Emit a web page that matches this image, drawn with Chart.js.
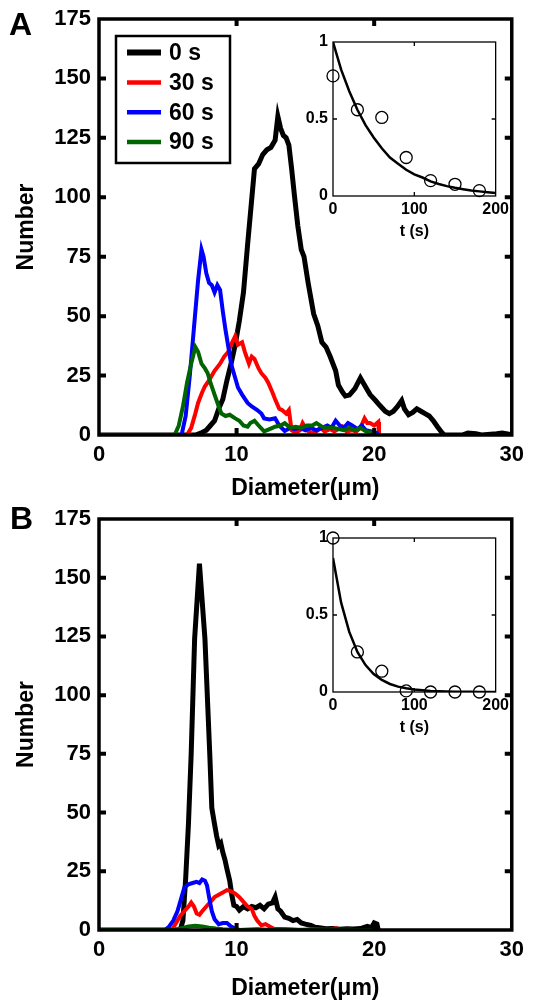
<!DOCTYPE html>
<html>
<head>
<meta charset="utf-8">
<script src="https://cdn.jsdelivr.net/npm/chart.js@4.4.1/dist/chart.umd.min.js"></script>
<style>
  body { margin: 0; background: #fff; }
  #wrap { position: relative; width: 533px; height: 1000px; }
  canvas { position: absolute; }
  .tag { position: absolute; font: bold 32px "Liberation Sans", Arial, sans-serif; line-height: 32px; }
</style>
</head>
<body>
<div id="wrap">
  <canvas id="mainA" width="533" height="500" style="left:0;top:0"></canvas>
  <canvas id="mainB" width="533" height="500" style="left:0;top:500px"></canvas>
  <canvas id="insetA" width="225" height="220" style="left:290px;top:28px"></canvas>
  <canvas id="insetB" width="225" height="220" style="left:290px;top:524px"></canvas>
  <div class="tag" style="left:9px;top:8px">A</div>
  <div class="tag" style="left:10px;top:502px">B</div>
</div>
<script>
// legend labels
const labels = ['0 s', '30 s', '60 s', '90 s'];
const colors = ['#000000', '#ff0000', '#0000ff', '#006400'];

// panel A - diameter (um) / number
const diamA0 = [0, 7.0, 7.4, 7.8, 8.1, 8.4, 8.7, 9.0, 9.3, 9.6, 9.9, 10.2, 10.5, 10.8, 11.05, 11.3, 11.6, 11.9, 12.2, 12.5, 12.8, 13.0, 13.2, 13.4, 13.6, 13.8, 14.0, 14.2, 14.45, 14.7, 14.9, 15.2, 15.6, 15.9, 16.2, 16.5, 16.8, 17.2, 17.4, 17.7, 17.9, 18.2, 18.6, 19.0, 19.2, 19.4, 19.7, 20.1, 20.4, 20.8, 21.1, 21.4, 21.7, 22.0, 22.2, 22.5, 22.8, 23.1, 23.4, 23.7, 24.0, 24.3, 24.6, 24.9, 25.1, 26.4, 26.8, 27.4, 27.8, 28.9, 29.3, 29.7, 30];
const countA0 = [0, 0, 0.8, 2, 4, 6, 11, 15, 23, 30, 38, 48, 60, 80, 96, 112, 114, 118, 120, 121, 124, 134, 129, 126, 125, 122, 112, 101, 88, 78, 75, 64, 51, 46, 39, 37, 33, 27, 21, 18, 16.4, 16.8, 19.5, 24, 22, 20, 17, 14.5, 12.5, 10, 9, 10, 12, 14.5, 11, 8.5, 9.5, 11, 10, 9, 8, 6, 3.5, 1.2, 0, 0, 0.8, 0.5, 0, 0.5, 0.8, 0.4, 0];
const diamA30 = [0, 6.4, 6.7, 7.0, 7.2, 7.5, 7.7, 8.0, 8.4, 8.8, 9.1, 9.4, 9.6, 9.9, 10.1, 10.4, 10.6, 10.9, 11.1, 11.3, 11.6, 11.8, 12.1, 12.3, 12.6, 12.8, 13.1, 13.3, 13.6, 13.8, 14.0, 14.3, 14.6, 14.8, 15.1, 15.4, 15.8, 16.1, 16.4, 16.8, 17.1, 17.4, 17.7, 18.0, 18.4, 18.7, 19.0, 19.3, 19.5, 19.7, 20.0, 20.3, 20.35];
const countA30 = [0, 0, 3, 9, 13.5, 18, 20.5, 23, 27, 30, 33, 35, 38, 41.5, 38, 39, 35, 30, 33, 32, 28, 26, 24, 22, 18, 15, 11, 10.5, 9, 10.5, 2, 1, 2, 5, 2, 1, 1.5, 3, 1.5, 2.5, 1.5, 2.5, 3.5, 1.5, 2, 1.5, 3, 7, 5, 5, 4, 5.5, 0];
const diamA60 = [0, 6.0, 6.3, 6.6, 6.9, 7.2, 7.45, 7.6, 7.8, 8.0, 8.2, 8.4, 8.6, 8.8, 9.0, 9.2, 9.4, 9.6, 9.9, 10.1, 10.4, 10.8, 11.1, 11.5, 11.8, 12.0, 12.4, 12.8, 13.1, 13.5, 13.9, 14.2, 14.6, 15.0, 15.4, 15.8, 16.2, 16.6, 16.9, 17.2, 17.5, 17.8, 18.1, 18.4, 18.8, 19.1, 19.4, 19.8, 20.1, 20.3];
const countA60 = [0, 0, 8, 25, 45, 65, 78, 75, 68, 64, 63, 60, 63, 61, 52, 44, 37, 30, 24, 20, 17, 13.5, 12, 10.5, 9, 7, 6.5, 7, 4, 1.7, 3, 2.5, 3, 2, 3, 2, 3, 4, 3, 6, 4, 3, 5, 4, 2.5, 4, 2, 1.5, 1, 0.5];
const diamA90 = [0, 5.5, 5.8, 6.1, 6.4, 6.7, 7.0, 7.2, 7.45, 7.7, 7.9, 8.1, 8.4, 8.7, 8.9, 9.2, 9.5, 9.9, 10.2, 10.5, 10.8, 11.0, 11.3, 11.6, 12.0, 12.4, 12.8, 13.2, 13.5, 13.9, 14.3, 14.7, 15.1, 15.5, 15.8, 16.2, 16.6, 17.0, 17.4, 17.8, 18.2, 18.6, 19.0, 19.4, 19.8, 20.2];
const countA90 = [0, 0, 4, 12, 22, 30, 37, 35, 30, 28, 26, 22, 17, 12, 9, 8, 8.5, 7, 6, 4, 3.5, 5, 6, 4, 1.5, 2.5, 3.5, 4, 5, 3, 3.5, 3, 4, 4, 5, 3.5, 3, 3, 2.5, 2, 3, 2, 3, 1.5, 1, 0];

// panel B
const diamB0 = [0, 5.9, 6.1, 6.3, 6.5, 6.7, 6.95, 7.3, 7.7, 8.05, 8.2, 8.4, 8.55, 8.7, 8.85, 9.0, 9.15, 9.3, 9.5, 9.65, 9.8, 10.0, 10.2, 10.5, 10.8, 11.1, 11.4, 11.7, 12.0, 12.3, 12.6, 12.8, 13.0, 13.2, 13.5, 13.8, 14.1, 14.4, 14.7, 15.0, 15.4, 15.7, 16.0, 16.5, 17.0, 17.5, 18.0, 18.5, 19.0, 19.5, 19.8, 20.0, 20.2, 20.3];
const countB0 = [0, 0, 4, 22, 45, 75, 124, 156, 124, 75, 52, 45, 40, 36, 37, 33, 30, 26, 21, 15, 10.5, 10, 8.5, 10, 9, 10, 9.5, 10.5, 9, 11, 11.5, 14, 9, 8, 5.5, 5, 4, 4.5, 3, 2.5, 2, 1.2, 1, 0.5, 0.6, 0.3, 0.5, 0.4, 0.6, 1.5, 1, 3, 2.5, 0];
const diamB30 = [0, 5.3, 5.6, 5.9, 6.2, 6.5, 6.7, 6.9, 7.1, 7.3, 7.5, 7.8, 8.1, 8.4, 8.7, 9.0, 9.3, 9.6, 9.9, 10.2, 10.5, 10.8, 11.1, 11.3, 11.5, 11.8, 12.1, 12.4, 12.7, 13.5, 14.5, 15.5, 16.8, 17.2, 17.5];
const countB30 = [0, 0, 3, 6, 8, 10, 11.7, 10, 7, 6.5, 8, 10, 12, 14, 15, 16, 17, 16.5, 15.5, 14, 12, 10, 9, 6, 4, 2, 2.5, 1.5, 0.5, 0.3, 0, 0.3, 0, 0.8, 0];
const diamB60 = [0, 4.8, 5.1, 5.4, 5.7, 6.0, 6.2, 6.5, 6.8, 7.1, 7.3, 7.5, 7.7, 7.85, 8.0, 8.2, 8.4, 8.7, 9.0, 9.3, 9.6, 9.9, 10.2, 11.5, 12.5, 13.5, 15.0, 16.5, 18.3, 18.5];
const countB60 = [0, 0, 1.5, 4, 8, 14, 18, 19.5, 20, 20.5, 20, 21.5, 21, 19, 14, 8, 4.6, 2.5, 3, 3, 1.5, 0.6, 0, 0.3, 0, 0.2, 0, 0.3, 0.3, 0];
const diamB90 = [0, 5.5, 6.0, 6.5, 7.0, 7.5, 8.0, 8.5, 9.0, 10.0, 20.0];
const countB90 = [0, 0, 0.8, 1.5, 1.8, 1.5, 1.0, 0.6, 0.3, 0, 0];

// insets - fraction vs time (s)
const sampleT = [0, 30, 60, 90, 120, 150, 180];
const fracA = [0.78, 0.56, 0.51, 0.25, 0.10, 0.076, 0.035];
const fracB = [1.0, 0.26, 0.135, 0.007, 0, 0, 0];
const fitT = [0, 10, 20, 30, 40, 50, 60, 70, 80, 90, 100, 110, 120, 130, 140, 150, 160, 170, 180, 190, 200];
const fitA = [1, 0.82, 0.68, 0.56, 0.46, 0.38, 0.31, 0.25, 0.21, 0.17, 0.14, 0.12, 0.095, 0.078, 0.064, 0.053, 0.044, 0.036, 0.03, 0.025, 0.02];
const fitB = [0.87, 0.58, 0.39, 0.26, 0.175, 0.117, 0.078, 0.052, 0.035, 0.024, 0.016, 0.011, 0.007, 0.005, 0.003, 0.002, 0.0015, 0.001, 0.0007, 0.0005, 0.0003];

const FONT = '"Liberation Sans", Arial, sans-serif';
Chart.defaults.font.family = FONT;
Chart.defaults.color = '#000';

const pts = (xs, ys) => xs.map((v, i) => ({ x: v, y: ys[i] }));

// box with inward ticks on all four sides
const framePlugin = {
  id: 'frame',
  afterDraw(chart, args, o) {
    const { ctx, chartArea: a, scales: { x, y } } = chart;
    ctx.save();
    ctx.strokeStyle = '#000';
    ctx.lineWidth = o.tickWidth;
    ctx.beginPath();
    x.ticks.forEach(t => {
      const px = x.getPixelForValue(t.value);
      if (px <= a.left + 1 || px >= a.right - 1) return;
      ctx.moveTo(px, a.bottom); ctx.lineTo(px, a.bottom - o.tickLen);
      ctx.moveTo(px, a.top); ctx.lineTo(px, a.top + o.tickLen);
    });
    y.ticks.forEach(t => {
      const py = y.getPixelForValue(t.value);
      if (py <= a.top + 1 || py >= a.bottom - 1) return;
      ctx.moveTo(a.left, py); ctx.lineTo(a.left + o.tickLen, py);
      ctx.moveTo(a.right, py); ctx.lineTo(a.right - o.tickLen, py);
    });
    ctx.stroke();
    ctx.lineWidth = o.lineWidth;
    ctx.strokeRect(a.left, a.top, a.right - a.left, a.bottom - a.top);
    ctx.restore();
  }
};

// legend drawn as a box inside the plot
const boxLegend = {
  id: 'boxLegend',
  afterDatasetsDraw(chart, args, o) {
    const { ctx, chartArea: a } = chart;
    const x0 = a.left + 17, y0 = a.top + 17, w = 114, h = 127;
    ctx.save();
    ctx.fillStyle = '#fff';
    ctx.fillRect(x0, y0, w, h);
    ctx.lineWidth = 2.5;
    ctx.strokeStyle = '#000';
    ctx.strokeRect(x0, y0, w, h);
    ctx.font = 'bold 23px ' + FONT;
    ctx.textBaseline = 'middle';
    chart.data.datasets.forEach((ds, i) => {
      const cy = y0 + 16.6 + i * 29.8;
      ctx.strokeStyle = ds.borderColor;
      ctx.lineWidth = i === 0 ? 6 : 4.5;
      ctx.beginPath();
      ctx.moveTo(x0 + 11, cy); ctx.lineTo(x0 + 45, cy);
      ctx.stroke();
      ctx.fillStyle = '#000';
      ctx.fillText(ds.label, x0 + 53, cy + 1);
    });
    ctx.restore();
  }
};

function mainChart(id, series, padTop, xAxisH, withLegend) {
  return new Chart(document.getElementById(id), {
    type: 'scatter',
    data: {
      datasets: series.map((s, i) => ({
        label: labels[i],
        data: pts(s[0], s[1]),
        showLine: true,
        borderColor: colors[i],
        borderWidth: i === 0 ? 5 : 4,
        pointRadius: 0,
        tension: 0,
        order: 3 - i
      }))
    },
    plugins: withLegend ? [framePlugin, boxLegend] : [framePlugin],
    options: {
      responsive: false,
      animation: false,
      devicePixelRatio: 1,
      layout: { padding: { top: padTop, right: 17, left: 0, bottom: 0 } },
      plugins: {
        legend: { display: false },
        tooltip: { enabled: false },
        frame: { lineWidth: 3.5, tickWidth: 4, tickLen: 7 }
      },
      scales: {
        x: {
          type: 'linear', min: 0, max: 30,
          ticks: { stepSize: 10, padding: 9, maxRotation: 0, font: { size: 22, weight: 'bold', lineHeight: 1 } },
          grid: { display: false, drawTicks: false },
          border: { display: false },
          title: { display: true, text: 'Diameter(μm)', font: { size: 23, weight: 'bold', lineHeight: 1 }, padding: { top: 0, bottom: 0 } },
          afterFit: s => { s.height = xAxisH; }
        },
        y: {
          min: 0, max: 175,
          ticks: { stepSize: 25, padding: 8, font: { size: 22, weight: 'bold', lineHeight: 1 } },
          grid: { display: false, drawTicks: false },
          border: { display: false },
          title: { display: true, text: 'Number', font: { size: 23, weight: 'bold', lineHeight: 1 }, padding: { top: 15.5, bottom: 0 } },
          afterFit: s => { s.width = 99; }
        }
      }
    }
  });
}

function insetChart(id, frac, fit) {
  return new Chart(document.getElementById(id), {
    type: 'scatter',
    data: {
      datasets: [
        { data: pts(fitT, fit), showLine: true, borderColor: '#000', borderWidth: 2.5, pointRadius: 0, tension: 0 },
        { data: pts(sampleT, frac), showLine: false, pointStyle: 'circle', pointRadius: 6,
          pointBorderWidth: 1.3, pointBorderColor: '#000', pointBackgroundColor: 'rgba(0,0,0,0)', clip: false }
      ]
    },
    plugins: [framePlugin],
    options: {
      responsive: false,
      animation: false,
      devicePixelRatio: 1,
      layout: { padding: { top: 14, right: 17.5, left: 0, bottom: 0 } },
      plugins: {
        legend: { display: false },
        tooltip: { enabled: false },
        frame: { lineWidth: 1.3, tickWidth: 1.3, tickLen: 4 }
      },
      scales: {
        x: {
          type: 'linear', min: 0, max: 200,
          ticks: { stepSize: 100, padding: 6, maxRotation: 0, font: { size: 16, weight: 'bold', lineHeight: 1 } },
          grid: { display: false, drawTicks: false },
          border: { display: false },
          title: { display: true, text: 't (s)', font: { size: 16, weight: 'bold', lineHeight: 1 }, padding: { top: 0, bottom: 8 } },
          afterFit: s => { s.height = 52; }
        },
        y: {
          min: 0, max: 1,
          ticks: { stepSize: 0.5, padding: 5, font: { size: 16, weight: 'bold', lineHeight: 1 }, callback: v => String(v) },
          grid: { display: false, drawTicks: false },
          border: { display: false },
          afterFit: s => { s.width = 43; }
        }
      }
    }
  });
}

mainChart('mainA', [[diamA0, countA0], [diamA30, countA30], [diamA60, countA60], [diamA90, countA90]], 15, 65, true);
mainChart('mainB', [[diamB0, countB0], [diamB30, countB30], [diamB60, countB60], [diamB90, countB90]], 11, 70, false);
insetChart('insetA', fracA, fitA);
insetChart('insetB', fracB, fitB);
</script>
</body>
</html>
